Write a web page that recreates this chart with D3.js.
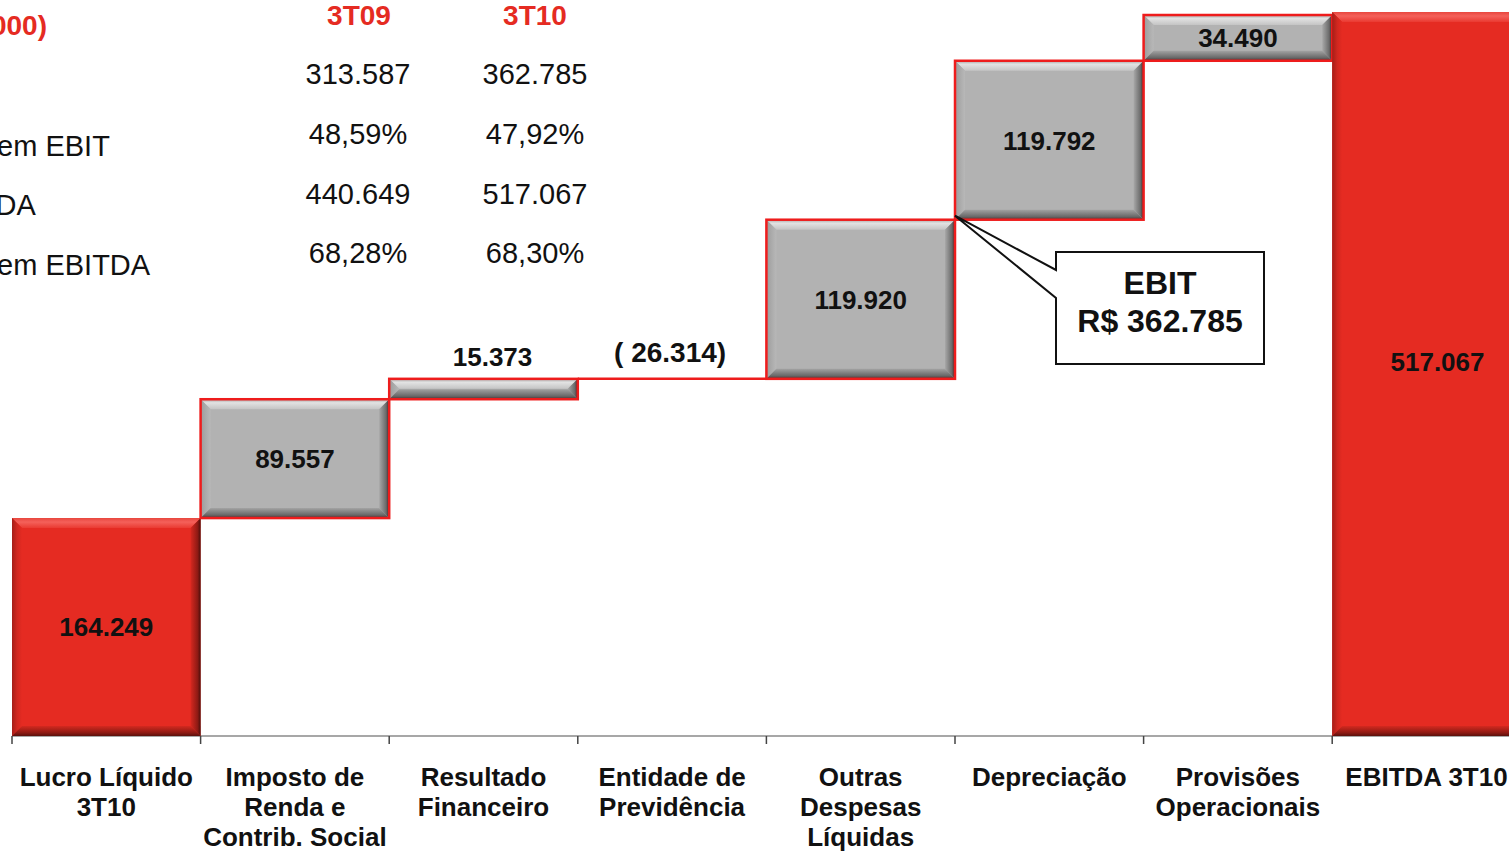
<!DOCTYPE html>
<html><head><meta charset="utf-8">
<script src="https://cdn.jsdelivr.net/npm/d3@7/dist/d3.min.js"></script>
<style>
html,body{margin:0;padding:0;background:#fff;overflow:hidden}
svg{display:block}
text{font-family:"Liberation Sans",Arial,Helvetica,sans-serif}
</style></head>
<body>
<svg id="chart" width="1509" height="851"></svg>
<script>
// ---- data (R$ mil) ----
const categories = ["Lucro Líquido\n3T10","Imposto de\nRenda e\nContrib. Social","Resultado\nFinanceiro","Entidade de\nPrevidência","Outras\nDespesas\nLíquidas","Depreciação","Provisões\nOperacionais","EBITDA 3T10"];
const values = [164249, 89557, 15373, -26314, 119920, 119792, 34490, 517067];
const barKind = ["total","step","step","step","step","step","step","total"];

const tableHeader = ["3T09","3T10"];
const tableTitle = "(R$ 000)";
const tableRows = ["EBIT","Margem EBIT","EBITDA","Margem EBITDA"];
const col3T09 = ["313.587","48,59%","440.649","68,28%"];
const col3T10 = ["362.785","47,92%","517.067","68,30%"];

const ebitLabel = "EBIT";
const ebitIndexEnd = 4; // EBIT = sum of first five items

// ---- helpers ----
const fmtNum = v => {
  const s = d3.format(",")(Math.abs(v)).replace(/,/g,".");
  return v < 0 ? "( " + s + ")" : s;
};

// waterfall layout (negative step drawn flat, as in original)
let cum = 0;
const bars = categories.map((c,i)=>{
  const v = values[i];
  if (barKind[i]==="total" && i===0){ cum = v; return {c,i,v,lo:0,hi:v,kind:"total"}; }
  if (barKind[i]==="total"){ return {c,i,v,lo:0,hi:cum,kind:"total"}; }
  const d = Math.max(v,0);
  const b = {c,i,v,lo:cum,hi:cum+d,kind:"step"};
  cum += d;
  return b;
});
const maxTop = d3.max(bars, b=>b.hi);

const svg = d3.select("#chart");
const W = 1509, H = 851;
const x = d3.scaleBand().domain(categories).range([12, 12 + 8*188.6]).padding(0);
const y = d3.scaleLinear().domain([0, maxTop]).range([736, 15]);

// ---- gradients ----
const defs = svg.append("defs");
function grad(id, x1,y1,x2,y2, stops){
  const g = defs.append("linearGradient").attr("id",id)
    .attr("x1",x1).attr("y1",y1).attr("x2",x2).attr("y2",y2);
  stops.forEach(s=>g.append("stop").attr("offset",s[0]).attr("stop-color",s[1]));
}
const pal = {
  step: {body:"#B2B2B2",
    top:[[0,"#A8A8A8"],[0.35,"#E2E2E2"],[1,"#C4C4C4"]],
    left:[[0,"#9C9C9C"],[1,"#B8B8B8"]],
    right:[[0,"#A8A8A8"],[0.7,"#6A6A6A"],[1,"#3A2222"]],
    bottom:[[0,"#A2A2A2"],[0.7,"#686868"],[1,"#4A3030"]]},
  total: {body:"#E52B22",
    top:[[0,"#E8463E"],[0.4,"#F4615A"],[1,"#EA3A31"]],
    left:[[0,"#A51E18"],[0.5,"#D0271F"],[1,"#E52B22"]],
    right:[[0,"#D6281F"],[0.7,"#8E1A14"],[1,"#4A0E0A"]],
    bottom:[[0,"#D4291F"],[0.7,"#8A1913"],[1,"#5A100C"]]}
};
Object.entries(pal).forEach(([k,p])=>{
  grad(k+"Top",0,0,0,1,p.top);
  grad(k+"Left",0,0,1,0,p.left);
  grad(k+"Right",0,0,1,0,p.right);
  grad(k+"Bottom",0,0,0,1,p.bottom);
});

// ---- axis ----
const axisG = svg.append("g");
axisG.append("line").attr("x1",x.range()[0]).attr("x2",W).attr("y1",y(0)).attr("y2",y(0))
  .attr("stroke","#8A8A8A").attr("stroke-width",1.5);
const tickXs = categories.map(c=>x(c));
axisG.selectAll("line.tick").data(tickXs).enter().append("line").attr("class","tick")
  .attr("x1",d=>d).attr("x2",d=>d).attr("y1",y(0)).attr("y2",y(0)+8)
  .attr("stroke","#444").attr("stroke-width",1.5);

// ---- bars ----
const barsG = svg.append("g");
bars.forEach(b=>{
  const x0 = x(b.c), x1 = x(b.c)+x.bandwidth();
  let y0 = y(b.hi);
  const y1 = y(b.lo);
  if (b.kind==="total" && b.i===bars.length-1) y0 -= 3;
  const h = y1 - y0;
  const g = barsG.append("g");
  if (h < 0.5){
    g.append("line").attr("x1",x0).attr("x2",x1).attr("y1",y0).attr("y2",y0)
      .attr("stroke","#EE1C1C").attr("stroke-width",2.5);
    return;
  }
  const k = b.kind;
  const bv = Math.min(10, h/2, (x1-x0)/2);
  g.append("rect").attr("x",x0).attr("y",y0).attr("width",x1-x0).attr("height",h).attr("fill",pal[k].body);
  const poly = (pts,fill)=>g.append("polygon").attr("points",pts.map(p=>p.join(",")).join(" ")).attr("fill",fill);
  poly([[x0,y0],[x1,y0],[x1-bv,y0+bv],[x0+bv,y0+bv]],`url(#${k}Top)`);
  poly([[x0,y0],[x0+bv,y0+bv],[x0+bv,y1-bv],[x0,y1]],`url(#${k}Left)`);
  poly([[x1,y0],[x1,y1],[x1-bv,y1-bv],[x1-bv,y0+bv]],`url(#${k}Right)`);
  poly([[x0,y1],[x1,y1],[x1-bv,y1-bv],[x0+bv,y1-bv]],`url(#${k}Bottom)`);
  if (k==="step"){
    g.append("rect").attr("x",x0).attr("y",y0).attr("width",x1-x0).attr("height",h)
      .attr("fill","none").attr("stroke","#EE1C1C").attr("stroke-width",2.5);
  }
});

// ---- value labels ----
const labG = svg.append("g");
bars.forEach((b,i)=>{
  const cx = x(b.c)+x.bandwidth()/2;
  const y0 = y(b.hi), y1 = y(b.lo), h = y1-y0;
  let ty, tx = cx, fs = 26;
  if (h >= 30) ty = (y0+y1)/2;
  else if (h < 0.5){ ty = y0 - 27; tx = cx - 2; fs = 28; }
  else { ty = y0 - 22; tx = cx + 9; }
  if (i === bars.length-1){ ty -= 14; tx += 11; }
  labG.append("text").attr("x",tx).attr("y",ty).attr("dy","0.36em")
    .attr("text-anchor","middle").attr("font-size",fs).attr("font-weight","bold")
    .attr("fill","#111").text(fmtNum(b.v));
});

// ---- category labels ----
const catG = svg.append("g");
categories.forEach(c=>{
  const lines = c.split("\n");
  const t = catG.append("text").attr("x",x(c)+x.bandwidth()/2).attr("y",786)
    .attr("text-anchor","middle").attr("font-size",26).attr("font-weight","bold").attr("fill","#111");
  lines.forEach((ln,j)=>t.append("tspan").attr("x",x(c)+x.bandwidth()/2).attr("dy",j?30:0).text(ln));
});

// ---- EBIT callout ----
const ebitVal = d3.sum(values.slice(0, ebitIndexEnd+1));
const tip = [x(categories[ebitIndexEnd+1]), y(bars[ebitIndexEnd].hi)-4];
const box = {x0:1056, y0:252, x1:1264, y1:364};
const cg = svg.append("g");
cg.append("path")
  .attr("d",`M${box.x0},${box.y0} L${box.x1},${box.y0} L${box.x1},${box.y1} L${box.x0},${box.y1} L${box.x0},298 L${tip[0]},${tip[1]} L${box.x0},270 Z`)
  .attr("fill","#fff").attr("stroke","#111").attr("stroke-width",2).attr("stroke-linejoin","miter");
cg.append("text").attr("x",(box.x0+box.x1)/2).attr("y",282).attr("dy","0.36em")
  .attr("text-anchor","middle").attr("font-size",32).attr("font-weight","bold").attr("fill","#111").text(ebitLabel);
cg.append("text").attr("x",(box.x0+box.x1)/2).attr("y",320).attr("dy","0.36em")
  .attr("text-anchor","middle").attr("font-size",32).attr("font-weight","bold").attr("fill","#111").text("R$ " + fmtNum(ebitVal));

// ---- table ----
const tg = svg.append("g");
const colX = [359, 535];
tg.append("text").attr("x",47).attr("y",35).attr("text-anchor","end")
  .attr("font-size",28).attr("font-weight","bold").attr("fill","#E52B22").text(tableTitle);
tableHeader.forEach((h,j)=>tg.append("text").attr("x",colX[j]).attr("y",25).attr("text-anchor","middle")
  .attr("font-size",28).attr("font-weight","bold").attr("fill","#E52B22").text(h));
const rowY = [84,144,204,263];
const rowLabelY = [96,156,215,275];
tableRows.forEach((r,i)=>{
  // first row label sits entirely outside the visible frame in the original; only partially visible ones are drawn
  if (i > 0) tg.append("text").attr("x",-69).attr("y",rowLabelY[i]).attr("font-size",29).attr("fill","#111").text(r);
  tg.append("text").attr("x",colX[0]-1).attr("y",rowY[i]).attr("text-anchor","middle").attr("font-size",29).attr("fill","#111").text(col3T09[i]);
  tg.append("text").attr("x",colX[1]).attr("y",rowY[i]).attr("text-anchor","middle").attr("font-size",29).attr("fill","#111").text(col3T10[i]);
});
</script>
</body></html>
